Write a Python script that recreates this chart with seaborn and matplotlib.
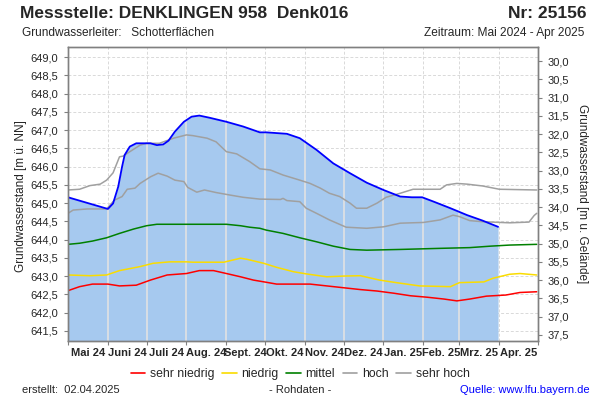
import matplotlib
matplotlib.use("Agg")
import matplotlib.pyplot as plt
import matplotlib.dates as mdates
from matplotlib.lines import Line2D
from matplotlib.ticker import FuncFormatter
import numpy as np
import pandas as pd
import seaborn as sns

# Gelaendehoehe (m ue. NN) fuer die rechte Achse
GELAENDE = 678.89

# Rohdaten - gemessener Grundwasserstand
mess_datum = ["2024-05-01", "2024-06-01", "2024-06-05", "2024-06-09", "2024-06-12", "2024-06-14",
              "2024-06-18", "2024-06-23", "2024-07-04", "2024-07-09", "2024-07-14", "2024-07-18",
              "2024-07-23", "2024-07-30", "2024-08-05", "2024-08-11", "2024-08-19", "2024-09-01",
              "2024-09-14", "2024-09-27", "2024-10-02", "2024-10-18", "2024-10-28", "2024-11-10",
              "2024-11-23", "2024-12-06", "2024-12-19", "2025-01-01", "2025-01-14", "2025-01-23",
              "2025-01-31", "2025-02-09", "2025-02-22", "2025-03-07", "2025-03-19", "2025-03-31"]
mess_wert = [645.16, 644.84, 644.99, 645.45, 646.00, 646.32,
             646.55, 646.64, 646.64, 646.59, 646.61, 646.71,
             646.96, 647.23, 647.37, 647.40, 647.34, 647.23,
             647.10, 646.94, 646.94, 646.90, 646.78, 646.46,
             646.09, 645.82, 645.56, 645.36, 645.18, 645.16,
             645.16, 645.04, 644.86, 644.67, 644.52, 644.35]

# sehr hoch
sh_datum = ["2024-05-01", "2024-05-10", "2024-05-18", "2024-05-26", "2024-05-31", "2024-06-05",
            "2024-06-10", "2024-06-13", "2024-06-18", "2024-06-26", "2024-07-01", "2024-07-11",
            "2024-07-22", "2024-08-01", "2024-08-06", "2024-08-17", "2024-08-24", "2024-09-01",
            "2024-09-09", "2024-09-19", "2024-09-27", "2024-10-05", "2024-10-15", "2024-10-28",
            "2024-11-05", "2024-11-13", "2024-11-20", "2024-11-28", "2024-12-06", "2024-12-11",
            "2024-12-19", "2024-12-27", "2025-01-03", "2025-01-14", "2025-01-24", "2025-02-14",
            "2025-02-19", "2025-02-27", "2025-03-07", "2025-03-19", "2025-04-01", "2025-04-30"]
sh_wert = [645.36, 645.38, 645.48, 645.52, 645.63, 645.83,
           646.27, 646.29, 646.41, 646.59, 646.64, 646.64,
           646.78, 646.87, 646.85, 646.78, 646.68, 646.41,
           646.35, 646.14, 645.94, 645.91, 645.77, 645.63,
           645.54, 645.41, 645.27, 645.18, 645.00, 644.86,
           644.86, 645.00, 645.16, 645.27, 645.38, 645.38,
           645.50, 645.54, 645.52, 645.47, 645.38, 645.36]

# hoch
h_datum = ["2024-05-01", "2024-05-05", "2024-05-16", "2024-05-31", "2024-06-06", "2024-06-12",
           "2024-06-16", "2024-06-22", "2024-06-26", "2024-07-04", "2024-07-10", "2024-07-17",
           "2024-07-23", "2024-07-30", "2024-08-02", "2024-08-09", "2024-08-15", "2024-08-24",
           "2024-09-04", "2024-09-14", "2024-09-27", "2024-10-13", "2024-10-15", "2024-10-18",
           "2024-10-28", "2024-11-02", "2024-11-10", "2024-11-20", "2024-12-03", "2024-12-19",
           "2025-01-01", "2025-01-14", "2025-02-01", "2025-02-14", "2025-02-24", "2025-03-01",
           "2025-03-09", "2025-03-19", "2025-04-09", "2025-04-24", "2025-04-28", "2025-04-30"]
h_wert = [644.72, 644.81, 644.84, 644.84, 645.08, 645.18,
          645.38, 645.41, 645.54, 645.72, 645.82, 645.74,
          645.63, 645.59, 645.43, 645.30, 645.36, 645.29,
          645.22, 645.16, 645.11, 645.10, 645.13, 645.07,
          645.04, 644.86, 644.72, 644.54, 644.34, 644.31,
          644.35, 644.45, 644.47, 644.54, 644.67, 644.63,
          644.52, 644.49, 644.46, 644.48, 644.66, 644.72]

# mittel
m_datum = ["2024-05-01", "2024-05-10", "2024-05-20", "2024-05-31", "2024-06-10", "2024-06-21",
           "2024-07-01", "2024-07-09", "2024-09-01", "2024-09-12", "2024-09-19", "2024-09-27",
           "2024-10-02", "2024-10-15", "2024-10-28", "2024-11-10", "2024-11-23", "2024-12-06",
           "2024-12-19", "2025-01-14", "2025-02-14", "2025-03-09", "2025-03-25", "2025-04-09",
           "2025-04-30"]
m_wert = [643.87, 643.90, 643.96, 644.05, 644.17, 644.29,
          644.38, 644.42, 644.42, 644.38, 644.34, 644.31,
          644.26, 644.17, 644.05, 643.94, 643.82, 643.73,
          643.71, 643.73, 643.76, 643.78, 643.82, 643.85,
          643.87]

# niedrig
n_datum = ["2024-05-01", "2024-05-18", "2024-05-31", "2024-06-10", "2024-06-26", "2024-07-06",
           "2024-07-19", "2024-08-01", "2024-08-06", "2024-08-30", "2024-09-12", "2024-09-17",
           "2024-09-30", "2024-10-10", "2024-10-23", "2024-11-02", "2024-11-18", "2024-12-01",
           "2024-12-14", "2024-12-29", "2025-01-09", "2025-01-19", "2025-01-29", "2025-02-22",
           "2025-03-01", "2025-03-20", "2025-03-27", "2025-04-09", "2025-04-17", "2025-04-30"]
n_wert = [643.03, 643.01, 643.03, 643.15, 643.26, 643.35,
          643.39, 643.39, 643.38, 643.38, 643.49, 643.46,
          643.35, 643.24, 643.12, 643.06, 642.98, 643.00,
          643.01, 642.89, 642.83, 642.78, 642.73, 642.71,
          642.82, 642.84, 642.94, 643.05, 643.07, 643.03]

# sehr niedrig
sn_datum = ["2024-05-01", "2024-05-10", "2024-05-20", "2024-06-01", "2024-06-10", "2024-06-23",
            "2024-07-04", "2024-07-17", "2024-08-01", "2024-08-11", "2024-08-22", "2024-09-01",
            "2024-09-12", "2024-09-22", "2024-10-02", "2024-10-10", "2024-11-05", "2024-11-18",
            "2024-12-01", "2024-12-14", "2024-12-27", "2025-01-09", "2025-01-22", "2025-02-04",
            "2025-02-17", "2025-02-27", "2025-03-09", "2025-03-22", "2025-04-06", "2025-04-17",
            "2025-04-30"]
sn_wert = [642.60, 642.71, 642.78, 642.78, 642.73, 642.75,
           642.89, 643.03, 643.07, 643.15, 643.15, 643.07,
           642.98, 642.89, 642.83, 642.78, 642.78, 642.73,
           642.68, 642.63, 642.59, 642.53, 642.46, 642.42,
           642.37, 642.32, 642.37, 642.45, 642.48, 642.55,
           642.57]

monate = ["Mai 24", "Juni 24", "Juli 24", "Aug. 24", "Sept. 24", "Okt. 24",
          "Nov. 24", "Dez. 24", "Jan. 25", "Feb. 25", "Mrz. 25", "Apr. 25"]

sns.set_theme(style="white")
plt.rcParams['font.family'] = ['Liberation Sans', 'DejaVu Sans']

fig = plt.figure(figsize=(6, 4), dpi=100)
ax = fig.add_axes([68 / 600, 1 - 341 / 400, 470 / 600, 294 / 400])

y_unten, y_oben = 641.22, 649.28
start, ende = pd.Timestamp("2024-05-01"), pd.Timestamp("2025-05-01")
grenzen = pd.date_range(start, ende, freq="MS")
mitten = [g + (n - g) / 2 for g, n in zip(grenzen[:-1], grenzen[1:])]

# Flaeche unter den Messwerten
mx = pd.to_datetime(mess_datum)
flaeche = ax.fill_between(mx, mess_wert, 640.0, color="#a6c9ef", lw=0, zorder=1)

# helle Monatslinien innerhalb der Flaeche
for g in grenzen[1:-1]:
    vl = ax.axvline(g, color="#e2e2e2", lw=1.2, zorder=1.5)
    vl.set_clip_path(flaeche.get_paths()[0], ax.transData)

# Statistik-Linien
linien = [
    (sn_datum, sn_wert, "#ff0000", "sehr niedrig"),
    (n_datum, n_wert, "#fadc00", "niedrig"),
    (m_datum, m_wert, "#008000", "mittel"),
    (h_datum, h_wert, "#a0a0a0", "hoch"),
    (sh_datum, sh_wert, "#a0a0a0", "sehr hoch"),
]
for d, w, c, name in linien:
    sns.lineplot(x=pd.to_datetime(d), y=w, ax=ax, color=c, lw=1.1, zorder=2, legend=False)

sns.lineplot(x=mx, y=mess_wert, ax=ax, color="#0000ff", lw=1.3, zorder=3, legend=False)

ax.set_xlim(start, ende)
ax.set_ylim(y_unten, y_oben)
ax.set_xlabel("")
ax.set_ylabel("")

# Gitter
ax.set_axisbelow(True)
ax.set_yticks(np.arange(641.5, 649.01, 0.5))
ax.set_xticks(grenzen)
ax.set_xticks(mitten, minor=True)
ax.set_xticklabels([])
ax.set_xticklabels(monate, minor=True, fontsize=8, fontweight="bold")
ax.grid(True, which="major", color="#d9d9d9", lw=0.7, ls=(0, (3, 2)))
ax.yaxis.set_major_formatter(FuncFormatter(lambda v, p: f"{v:.1f}".replace(".", ",")))
ax.tick_params(axis="y", which="major", left=True, length=3, width=0.8, color="#808080",
               labelsize=8, pad=4)
ax.tick_params(axis="x", which="major", bottom=True, length=3, width=0.8, color="#808080")
ax.tick_params(axis="x", which="minor", bottom=False, length=0, pad=5)
for s in ax.spines.values():
    s.set_color("#808080")
    s.set_linewidth(1)

# rechte Achse: Flurabstand
ax2 = ax.twinx()
ax2.set_ylim(GELAENDE - y_unten, GELAENDE - y_oben)
ax2.set_yticks(np.arange(30.0, 37.51, 0.5))
ax2.yaxis.set_major_formatter(FuncFormatter(lambda v, p: f"{v:.1f}".replace(".", ",")))
ax2.tick_params(axis="y", right=True, length=3, width=0.8, color="#808080", labelsize=8, pad=4)
ax2.grid(False)
for s in ax2.spines.values():
    s.set_color("#808080")
    s.set_linewidth(1)

# Achsentitel
fig.text(21 / 600, 1 - 196 / 400, "Grundwasserstand [m ü. NN]", rotation=90,
         ha="center", va="center", fontsize=8.5)
fig.text(582 / 600, 1 - 194 / 400, "Grundwasserstand [m u. Gelände]", rotation=270,
         ha="center", va="center", fontsize=8.5)

# Kopfzeilen
fig.text(20 / 600, 1 - 14 / 400, "Messstelle: DENKLINGEN 958  Denk016", fontsize=12.5,
         fontweight="bold", va="center", ha="left")
fig.text(587 / 600, 1 - 14 / 400, "Nr: 25156", fontsize=12.5, fontweight="bold",
         va="center", ha="right")
fig.text(22 / 600, 1 - 33 / 400, "Grundwasserleiter:   Schotterflächen", fontsize=8.6,
         va="center", ha="left")
fig.text(584 / 600, 1 - 33 / 400, "Zeitraum: Mai 2024 - Apr 2025", fontsize=8.6,
         va="center", ha="right")

# Legende
handles = [Line2D([0], [0], color=c, lw=1.2) for _, _, c, _ in linien]
fig.legend(handles, [l[3] for l in linien], loc="center", bbox_to_anchor=(0.5, 1 - 374 / 400),
           ncol=5, frameon=False, fontsize=8.8, handlelength=1.2, handletextpad=0.4,
           columnspacing=0.6)

# Fusszeile
fig.text(22 / 600, 1 - 390 / 400, "erstellt:  02.04.2025", fontsize=8, va="center", ha="left")
fig.text(300 / 600, 1 - 390 / 400, "- Rohdaten -", fontsize=8, va="center", ha="center")
fig.text(590 / 600, 1 - 390 / 400, "Quelle: www.lfu.bayern.de", fontsize=8, va="center",
         ha="right", color="#0000ff")

fig.savefig("out.png", dpi=100)
